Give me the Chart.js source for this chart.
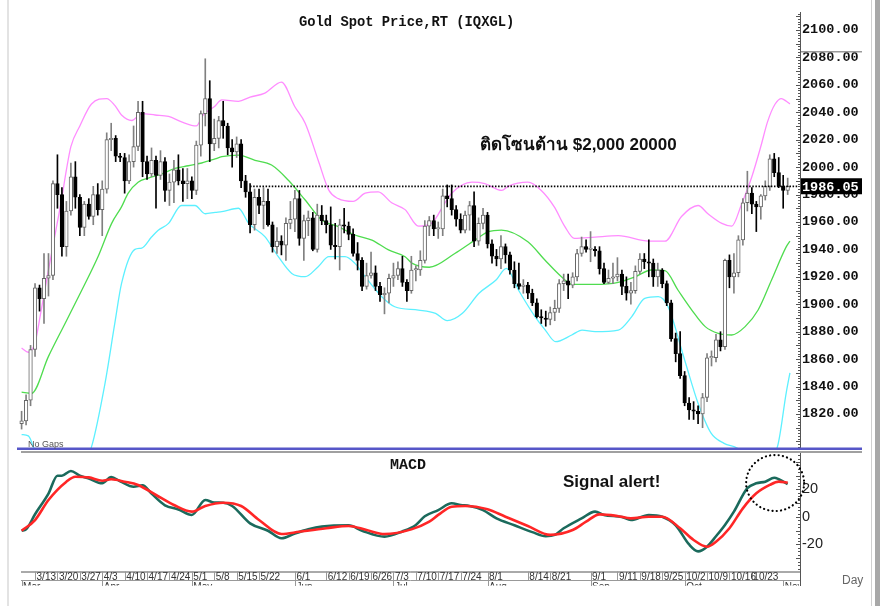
<!DOCTYPE html>
<html>
<head>
<meta charset="utf-8">
<script src="https://cdn.jsdelivr.net/npm/chart.js@4"></script>
<style>
  html, body { margin: 0; padding: 0; background: #fff; overflow: hidden; }
  #wrap { position: relative; width: 880px; height: 606px; }
  #main { position: absolute; left: 0; top: 0; }
  #macd { position: absolute; left: 0; top: 450px; }
  .edge { position: absolute; top: 0; height: 606px; }
</style>
</head>
<body>
<div id="wrap">
  <canvas id="main" width="880" height="450"></canvas>
  <canvas id="macd" width="880" height="156"></canvas>
  <div class="edge" style="left:7px;width:2px;background:#e3e3e3"></div>
  <div class="edge" style="left:871px;width:1px;background:#d0d0d0"></div>
  <div class="edge" style="left:875px;width:5px;background:#a8a8a8"></div>
</div>
<script>
// daily candles, Mar 8 .. Nov 2 (index 0 = Mar 8)
const opens = [1813,1815,1830,1867,1912,1904,1919,1921,1988,1980,
  1942,1968,1993,1978,1956,1973,1964,1980,1969,1984,
  2020,2021,2008,2007,1990,2004,2015,2040,2004,1995,
  2005,1994,2004,1983,1989,1998,1990,1988,1990,1983,
  2016,2039,2050,2017,2021,2034,2030,2014,2011,2017,
  1990,1982,1958,1978,1972,1975,1958,1942,1946,1943,
  1959,1962,1977,1948,1961,1963,1940,1965,1961,1958,
  1943,1942,1958,1957,1951,1937,1932,1913,1921,1923,
  1913,1907,1908,1919,1921,1926,1916,1910,1925,1925,
  1932,1957,1961,1955,1955,1979,1977,1969,1962,1954,
  1965,1972,1946,1959,1965,1944,1935,1933,1942,1936,
  1925,1915,1913,1914,1908,1901,1891,1890,1889,1894,
  1897,1915,1917,1914,1920,1937,1942,1940,1940,1939,
  1926,1916,1919,1920,1922,1913,1908,1910,1924,1933,
  1931,1930,1920,1925,1915,1901,1875,1864,1848,1828,
  1823,1822,1820,1832,1861,1861,1874,1869,1932,1920,
  1923,1947,1974,1981,1973,1971,1979,1986,2006,1996,
  1986,1983];
const highs = [1822,1834,1870,1915,1914,1937,1937,1990,2009,1985,
  1975,2003,2004,1980,1975,1977,1986,1988,1990,2025,
  2032,2023,2010,2010,2009,2030,2048,2048,2008,2014,
  2008,2012,2007,1995,2005,2009,1999,1999,1993,2019,
  2041,2079,2063,2035,2037,2048,2032,2020,2022,2020,
  1994,1988,1984,1984,1985,1984,1960,1956,1950,1963,
  1975,1983,1983,1965,1968,1967,1973,1972,1965,1971,
  1959,1962,1970,1960,1955,1945,1934,1930,1938,1928,
  1916,1912,1922,1930,1931,1935,1918,1935,1928,1939,
  1961,1964,1965,1960,1984,1987,1987,1972,1966,1968,
  1975,1982,1963,1970,1967,1947,1940,1950,1944,1938,
  1931,1930,1918,1916,1911,1904,1896,1895,1898,1903,
  1918,1922,1922,1923,1940,1949,1947,1953,1942,1942,
  1930,1925,1930,1934,1925,1920,1916,1928,1937,1937,
  1947,1933,1930,1926,1917,1903,1879,1880,1851,1832,
  1829,1826,1835,1864,1866,1878,1880,1933,1936,1937,
  1950,1977,1997,1985,1975,1980,1990,2009,2010,2007,
  1994,1992];
const lows = [1809,1812,1826,1862,1895,1886,1906,1918,1970,1935,
  1935,1965,1970,1950,1950,1962,1958,1965,1950,1981,
  2012,2004,2004,1981,1988,2000,2012,1993,1991,1993,
  1970,1991,1975,1972,1974,1987,1975,1977,1977,1980,
  2008,2030,2004,2012,2014,2021,2009,2000,2007,1985,
  1978,1952,1954,1966,1955,1957,1938,1937,1936,1932,
  1955,1953,1943,1932,1950,1939,1938,1958,1952,1940,
  1933,1925,1952,1947,1935,1925,1910,1911,1919,1910,
  1902,1893,1901,1913,1918,1913,1902,1908,1917,1921,
  1930,1950,1950,1948,1950,1971,1965,1957,1952,1952,
  1954,1942,1943,1955,1941,1930,1928,1926,1930,1922,
  1912,1911,1908,1904,1899,1890,1886,1884,1885,1888,
  1894,1910,1904,1912,1917,1935,1938,1931,1935,1922,
  1915,1915,1915,1917,1907,1903,1900,1908,1922,1926,
  1920,1913,1913,1912,1899,1873,1858,1846,1826,1816,
  1816,1813,1810,1829,1855,1858,1866,1867,1912,1908,
  1920,1943,1968,1966,1953,1962,1976,1983,1993,1985,
  1970,1980];
const closes = [1815,1830,1867,1912,1904,1919,1921,1988,1980,1942,
  1968,1993,1978,1956,1973,1964,1980,1969,1984,2020,
  2021,2008,2007,1990,2004,2015,2040,2004,1995,2005,
  1994,2004,1983,1989,1998,1990,1988,1990,1983,2016,
  2039,2050,2017,2021,2034,2030,2014,2011,2017,1990,
  1982,1958,1978,1972,1975,1958,1942,1946,1943,1959,
  1962,1977,1948,1961,1963,1940,1965,1961,1958,1943,
  1942,1958,1957,1951,1937,1932,1913,1921,1923,1913,
  1907,1908,1919,1921,1926,1916,1910,1925,1926,1932,
  1957,1961,1955,1956,1979,1977,1969,1962,1954,1965,
  1972,1946,1959,1965,1944,1935,1933,1942,1936,1925,
  1915,1913,1914,1908,1901,1891,1890,1889,1894,1897,
  1915,1917,1914,1920,1937,1942,1940,1941,1939,1926,
  1916,1919,1920,1922,1913,1908,1910,1924,1933,1931,
  1930,1920,1925,1915,1901,1875,1864,1848,1828,1823,
  1822,1820,1832,1861,1862,1874,1869,1932,1920,1923,
  1947,1974,1981,1973,1971,1979,1986,2006,1996,1986,
  1983,1986.05];

// Bollinger bands (index, value)
const upperIdx = [0,1.5,3,4.5,6,8,9,10,11,13,15.6,19,20.8,22.3,24.6,26.8,29.8,32.8,35.7,39,40.5,43,44.7,48.4,51,54.3,58,61,63.3,66.2,68.6,70.7,74,76.7,79.6,82.6,85.6,88.6,91.5,94.5,96,100.5,103.4,107.2,108.6,113,116,118.9,121.2,123.4,128,133.2,140,143.6,147.3,151,153.2,156.3,158.5,160.7,163,165,166.5,168.2,169.6,170.7,171.5];
const upperVal = [1868,1865,1872,1898,1925,1960,1978,1998,2015,2030,2046,2050,2045,2038,2034,2039,2038,2037,2033,2030,2038,2044,2049,2048,2051,2054,2062,2044,2032,2005,1983,1977,1975,1981,1982,1974,1969,1957,1959,1974,1981,1989,1988,1983,1986,1989,1983,1971,1957,1948,1949,1950,1946,1946,1964,1972,1966,1959,1957,1973,1993,2015,2033,2046,2050,2048,2046];
const midIdx = [0,2.2,6,9.7,13.4,17.1,20.1,22.3,23.8,26,28.3,31.3,34.2,37.2,40.2,43.2,44.7,48.4,52.1,55.8,59.5,63.3,67,70.7,74.4,78.2,81.9,85.6,87.1,91,96.7,101.2,104.2,107.1,113,116.8,120.5,122.8,128,133.2,136.9,140.6,143.6,146.5,149.6,152.6,155.5,158.5,161.5,164.4,167.4,170.7,171.5];
const midVal = [1836,1835,1862,1886,1910,1935,1959,1971,1981,1989,1992,1995,1999,2001,2003,2006,2007.6,2008.8,2005,2001.5,1990.6,1976,1961.4,1956.6,1950.5,1946.8,1939.6,1934.7,1930,1927,1937,1946.8,1952.9,1954.1,1945.6,1932.3,1920.1,1914.5,1914.5,1916,1920,1925,1924.5,1910.4,1895.8,1883.7,1878.8,1877.6,1883.7,1895.8,1917.7,1942,1946];
const lowerIdx = [0,1.5,3,5,9,13,15.6,18.6,20.8,22.3,25.3,26.8,29,30.5,32.8,35.7,38.7,41,43.2,44.7,48.4,50.7,54.3,57.3,60.3,63.3,66.2,68.6,72.2,74.4,76.7,80.4,83.3,88.6,92.4,95,98.4,102.1,105.9,108.2,110.9,114.6,116.9,119.2,122.8,125.1,128,133.2,136.2,139.1,142.1,144.3,148,151,153.9,156.8,159.8,163,166,168.6,170.7,171.5];
const lowerVal = [1805,1804,1793,1780,1772,1780,1796,1842,1886,1915,1940,1941,1949,1954,1959,1972,1972,1966,1967,1967.5,1970,1959,1949.3,1934.7,1922.5,1920.1,1927.4,1934.7,1934.7,1929.8,1920.1,1905.5,1898.2,1895.8,1893.4,1888,1893.4,1908,1917.7,1926.2,1910.4,1891,1881.2,1872.7,1877.6,1881.2,1880,1881.2,1891,1904.3,1905.5,1898.2,1859.4,1827.8,1806,1798.6,1795,1786,1788,1795,1836,1850];

// MACD and signal
const macdIdx = [0,1,3,6,8,9,11,13,15,18,20,22,25,27,29,32,35,38,41,43,45,47,51,55,58,61,64,67,73,76,81,85,88,90,93,96,98,100,103,106,110,114,117,119,121,125,128,130,134,136,140,143,146,149,151,153,155,157,159,162,164,166,168,169,171];
const macdVal = [-10,-9,2,17,30,30,33.5,30,28,24.5,29,26,22,23,17,8.5,5.5,1.5,12.4,10.5,10.4,8,-4.6,-10,-15.5,-12,-9,-7,-6,-10,-14.3,-10.5,-5.8,0.5,5,10,8.7,8,5,-1,-6,-11,-14,-13,-8.2,-1,3.9,1.5,0,-2.2,1.5,0.2,-6,-20,-25,-21.6,-14,-5.8,3.9,21,24.5,25.7,28.5,27.5,24];
const signalIdx = [0,3,6,10,12,15,18,20,23,26,30,34,38,41,45,49,53,58,62,68,73,77,81,87,91,93,96,99,104,108,113,118,123,126,129,133,136,140,143,147,150,153,155,158,161,164,167,169,171];
const signalVal = [-10,-2.2,12.4,25.7,29.3,28.8,26.4,27.4,25.7,23.3,16,8.7,3.9,8,10.4,8,-2.2,-12.4,-10.7,-8.2,-6.5,-9.5,-12.4,-9,-3.4,1.5,7.5,8,5.6,0.2,-6.5,-13,-9.5,-3.4,1.9,0.7,-1,0.2,0.2,-8.2,-16.7,-21.6,-18,-8.2,6.3,17.2,23.3,25.7,25];

// axis ticks
const priceTicks = [1820,1840,1860,1880,1900,1920,1940,1960,1980,2000,2020,2040,2060,2080,2100];
const macdTicks = [-20, 0, 20];
const dayTickIdx = [3,8,13,18,23,28,33,38,43,48,53,61,68,73,78,83,88,93,98,104,113,118,127,133,138,143,148,153,158,163];
const dayTickLabels = ['3/13','3/20','3/27','4/3','4/10','4/17','4/24','5/1','5/8','5/15','5/22','6/1','6/12','6/19','6/26','7/3','7/10','7/17','7/24','8/1','8/14','8/21','9/1','9/11','9/18','9/25','10/2','10/9','10/16','10/23'];
const monthIdx = [0,18,38,61,83,104,127,148,170];
const monthLabels = ['Mar','Apr','May','Jun','Jul','Aug','Sep','Oct','Nov'];

const resistLevel = 1986;
const resistFrom = 51;
const lastPrice = 1986.05;

const X_MIN = -0.58, X_MAX = 173.75;
const MONO = '"Liberation Mono", "Courier New", monospace';
const SANS = '"Liberation Sans", Arial, sans-serif';

const isUp = i => closes[i] >= opens[i];
const pts = (xs, ys) => xs.map((x, k) => ({ x, y: ys[k] }));
// fixed axis width, and no extra room for half labels
const fixWidth = s => { s.width = 80; s.paddingTop = 0; s.paddingBottom = 0; };

function minorTicks(ctx, scale, x, from, to, step) {
  ctx.save();
  ctx.strokeStyle = '#555';
  ctx.lineWidth = 1;
  ctx.beginPath();
  for (let v = Math.ceil(from / step) * step; v <= to; v += step) {
    const y = Math.round(scale.getPixelForValue(v)) + 0.5;
    const len = (Math.abs(v % 10) < 1e-6) ? 4 : 2;
    ctx.moveTo(x - len, y);
    ctx.lineTo(x, y);
  }
  ctx.stroke();
  ctx.restore();
}

const mainDeco = {
  id: 'mainDeco',
  afterDraw(chart) {
    const { ctx, scales: { y } } = chart;
    minorTicks(ctx, y, 800, 1796, 2112, 2);
    ctx.save();
    // grey line near top of axis
    ctx.fillStyle = '#9a9a9a';
    ctx.fillRect(801, 51, 61, 1.5);
    // last price box
    const py = y.getPixelForValue(lastPrice);
    ctx.fillStyle = '#000';
    ctx.fillRect(801, py - 8, 61, 16);
    ctx.fillStyle = '#fff';
    ctx.font = 'bold 13.5px ' + MONO;
    ctx.textBaseline = 'middle';
    ctx.fillText(lastPrice.toFixed(2), 802, py + 1);
    // panel separator
    ctx.fillStyle = '#5656c8';
    ctx.fillRect(17, 447.5, 845, 2.5);
    // texts
    ctx.textBaseline = 'alphabetic';
    ctx.fillStyle = '#111';
    ctx.font = 'bold 13.8px ' + MONO;
    ctx.fillText('Gold Spot Price,RT (IQXGL)', 299, 26);
    ctx.font = 'bold 17px ' + SANS;
    ctx.fillText('ติดโซนต้าน $2,000 20000', 480, 149.5);
    ctx.fillStyle = '#555';
    ctx.font = '9px ' + SANS;
    ctx.fillText('No Gaps', 28, 447);
    ctx.restore();
  }
};

const macdDeco = {
  id: 'macdDeco',
  afterDraw(chart) {
    const { ctx, scales: { x, y }, chartArea } = chart;
    minorTicks(ctx, y, 800, -37.5, 45, 2.5);
    ctx.save();
    ctx.fillStyle = '#a0a0a0';
    ctx.fillRect(21, 1, 841, 2);
    ctx.strokeStyle = '#555';
    ctx.lineWidth = 1;
    ctx.beginPath();
    ctx.moveTo(800.5, chartArea.bottom);
    ctx.lineTo(800.5, 136);
    ctx.moveTo(21, chartArea.bottom + 0.5);
    ctx.lineTo(800, chartArea.bottom + 0.5);
    ctx.stroke();
    ctx.strokeStyle = '#999';
    ctx.beginPath();
    ctx.moveTo(21, 130.5);
    ctx.lineTo(800, 130.5);
    dayTickIdx.forEach(i => {
      const px = Math.round(x.getPixelForValue(i)) + 0.5;
      ctx.moveTo(px, chartArea.bottom);
      ctx.lineTo(px, 130.5);
    });
    monthIdx.forEach(i => {
      const px = Math.round(x.getPixelForValue(i)) + 0.5;
      ctx.moveTo(px, 130.5);
      ctx.lineTo(px, 136);
    });
    ctx.stroke();
    ctx.fillStyle = '#333';
    ctx.font = '10px "Liberation Sans Narrow", ' + SANS;
    ctx.textBaseline = 'alphabetic';
    dayTickIdx.forEach((i, k) => {
      ctx.fillText(dayTickLabels[k], x.getPixelForValue(i) + 1.5, 129.5);
    });
    ctx.save();
    ctx.beginPath();
    ctx.rect(0, 131, 800, 4.5);
    ctx.clip();
    ctx.textBaseline = 'top';
    monthIdx.forEach((i, k) => {
      ctx.fillText(monthLabels[k], x.getPixelForValue(i) + 1.5, 132);
    });
    ctx.restore();
    // circle around the latest cross
    ctx.strokeStyle = '#000';
    ctx.lineWidth = 2.2;
    ctx.lineCap = 'round';
    ctx.setLineDash([0.1, 4.2]);
    ctx.beginPath();
    ctx.ellipse(x.getPixelForValue(168.2), y.getPixelForValue(24.7), 29, 28, 0, 0, Math.PI * 2);
    ctx.stroke();
    ctx.setLineDash([]);
    // texts
    ctx.fillStyle = '#111';
    ctx.font = 'bold 15px ' + MONO;
    ctx.fillText('MACD', 390, 18.5);
    ctx.font = 'bold 17px ' + SANS;
    ctx.fillText('Signal alert!', 563, 36.5);
    ctx.fillStyle = '#666';
    ctx.font = '12px ' + SANS;
    ctx.fillText('Day', 842, 134);
    ctx.restore();
  }
};

new Chart(document.getElementById('main'), {
  type: 'bar',
  data: {
    datasets: [
      {
        type: 'bar',
        data: closes.map((c, i) => ({ x: i, y: [opens[i], c] })),
        backgroundColor: c => isUp(c.dataIndex) ? '#fff' : '#000',
        borderColor: c => isUp(c.dataIndex) ? '#666' : '#000',
        borderWidth: 1,
        borderSkipped: false,
        minBarLength: 1,
        barThickness: 3.6,
        grouped: false,
        order: 1
      },
      {
        type: 'bar',
        data: highs.map((h, i) => ({ x: i, y: [lows[i], h] })),
        backgroundColor: c => isUp(c.dataIndex) ? '#808080' : '#000',
        barThickness: 1,
        grouped: false,
        order: 2
      },
      {
        type: 'line',
        data: pts(upperIdx, upperVal),
        borderColor: '#ff8cff', borderWidth: 1.3, pointRadius: 0,
        cubicInterpolationMode: 'monotone', order: 3
      },
      {
        type: 'line',
        data: pts(midIdx, midVal),
        borderColor: '#4fdc4f', borderWidth: 1.3, pointRadius: 0,
        cubicInterpolationMode: 'monotone', order: 3
      },
      {
        type: 'line',
        data: pts(lowerIdx, lowerVal),
        borderColor: '#5cf0ff', borderWidth: 1.3, pointRadius: 0,
        cubicInterpolationMode: 'monotone', order: 3
      },
      {
        type: 'line',
        data: [{ x: resistFrom, y: resistLevel }, { x: X_MAX - 0.3, y: resistLevel }],
        borderColor: '#000', borderWidth: 1.7, borderDash: [1.5, 1.6],
        pointRadius: 0, order: 0
      }
    ]
  },
  options: {
    responsive: false,
    animation: false,
    devicePixelRatio: 1,
    layout: { padding: { left: 19, top: 12, right: 0, bottom: 2 } },
    plugins: { legend: { display: false }, tooltip: { enabled: false } },
    scales: {
      x: { type: 'linear', min: X_MIN, max: X_MAX, offset: false, display: false },
      y: {
        position: 'right',
        min: 1795.2, max: 2113.1,
        afterFit: fixWidth,
        afterBuildTicks: s => { s.ticks = priceTicks.map(v => ({ value: v })); },
        grid: { display: false, drawTicks: false },
        border: { display: true, color: '#555', width: 1 },
        ticks: {
          padding: 2, color: '#111',
          font: { family: MONO, size: 13.5, weight: 'bold' },
          callback: v => v.toFixed(2)
        }
      }
    }
  },
  plugins: [mainDeco]
});

new Chart(document.getElementById('macd'), {
  type: 'line',
  data: {
    datasets: [
      {
        data: pts(signalIdx, signalVal),
        borderColor: '#ff2626', borderWidth: 2.6, pointRadius: 0,
        cubicInterpolationMode: 'monotone', order: 0
      },
      {
        data: pts(macdIdx, macdVal),
        borderColor: '#1b6a5c', borderWidth: 2.6, pointRadius: 0,
        cubicInterpolationMode: 'monotone', order: 1
      }
    ]
  },
  options: {
    responsive: false,
    animation: false,
    devicePixelRatio: 1,
    layout: { padding: { left: 19, top: 2, right: 0, bottom: 34.5 } },
    plugins: { legend: { display: false }, tooltip: { enabled: false } },
    scales: {
      x: { type: 'linear', min: X_MIN, max: X_MAX, offset: false, display: false },
      y: {
        position: 'right',
        min: -39.64, max: 47.27,
        afterFit: fixWidth,
        afterBuildTicks: s => { s.ticks = macdTicks.map(v => ({ value: v })); },
        grid: { display: false, drawTicks: false },
        border: { display: true, color: '#555', width: 1 },
        ticks: {
          padding: 2, color: '#222',
          font: { family: SANS, size: 14.5 },
          callback: v => String(v)
        }
      }
    }
  },
  plugins: [macdDeco]
});
</script>
</body>
</html>
